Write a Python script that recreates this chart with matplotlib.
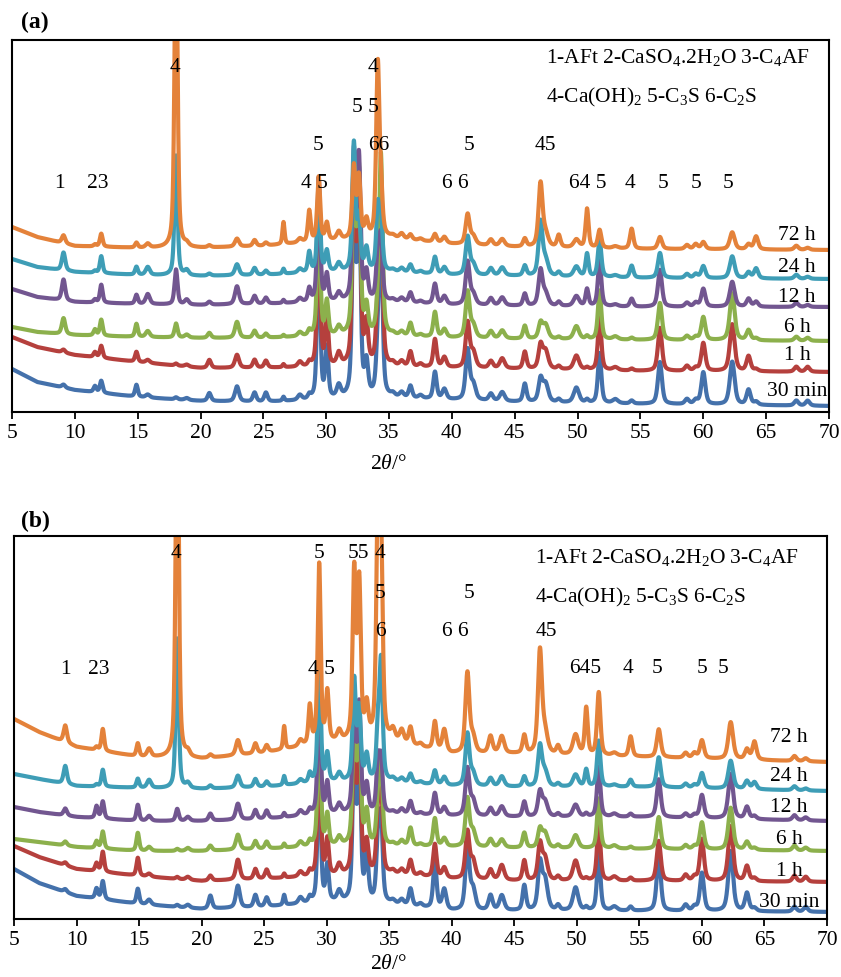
import numpy as np
import matplotlib
matplotlib.use("Agg")
import matplotlib.pyplot as plt

plt.rcParams['font.family'] = ['Liberation Serif', 'DejaVu Serif']
plt.rcParams['mathtext.fontset'] = 'custom'
plt.rcParams['mathtext.rm'] = 'Liberation Serif'
plt.rcParams['mathtext.it'] = 'Liberation Serif:italic'

# ---------------- data ----------------
series_names = ["30 min", "1 h", "6 h", "12 h", "24 h", "72 h"]
colors = ["#4471AB", "#B5403D", "#8CB04C", "#725690", "#3E9DB6", "#E4823A"]

# peak positions (2theta, deg) and widths (FWHM, deg)
peak_pos = [9.1, 11.6, 12.1, 14.9, 15.8, 18.05, 18.9, 20.7, 22.9, 24.3,
            25.2, 26.6, 27.9, 28.65, 29.4, 30.05, 31.0, 32.2, 32.6, 33.2,
            34.1, 34.35, 35.3, 36.0, 36.7, 37.5, 38.65, 39.4, 41.25, 41.7,
            43.1, 44.0, 45.8, 47.05, 47.45, 48.5, 49.9, 50.75, 51.75, 53.0,
            54.3, 56.55, 58.7, 59.4, 60.0, 62.3, 63.6, 64.2, 67.4, 68.3]
peak_fwhm = [0.32, 0.26, 0.26, 0.26, 0.38, 0.28, 0.38, 0.32, 0.38, 0.32,
             0.32, 0.2, 0.38, 0.26, 0.28, 0.28, 0.38, 0.3, 0.3, 0.32,
             0.3, 0.3, 0.38, 0.38, 0.32, 0.38, 0.32, 0.38, 0.38, 0.45,
             0.38, 0.45, 0.32, 0.38, 0.5, 0.32, 0.5, 0.28, 0.32, 0.5,
             0.32, 0.38, 0.38, 0.38, 0.38, 0.45, 0.38, 0.38, 0.38, 0.38]

# baseline control points
base_tt = [5, 7, 10, 15, 20, 25, 30, 35, 40, 45, 55, 70]

# ---- panel (a) ----
base_a_30min = [43, 30, 22, 15, 11, 10, 12, 14, 12, 10, 8, 6]
base_a_1h = [75, 65, 57, 50, 44, 44, 45, 45, 44, 43, 41, 40]
base_a_6h = [85, 80, 77, 75, 74, 74, 76, 76, 74, 73, 72, 71]
base_a_12h = [123, 115, 110, 108, 107, 108, 110, 110, 107, 106, 105, 105]
base_a_24h = [153, 145, 140, 137, 136, 137, 140, 140, 137, 136, 134, 133]
base_a_72h = [185, 175, 166, 164, 164, 166, 171, 174, 168, 165, 163, 162]

int_a_30min = [3, 6, 12, 12, 3, 2, 2, 8, 15, 9, 9, 4, 5, 4, 167, 50, 12, 210, 200, 32,
               45, 170, 3, 5, 12, 3, 27, 10, 50, 15, 7, 9, 18, 22, 18, 3, 15, 3, 50, 4,
               3, 42, 5, 4, 32, 43, 15, 3, 5, 5]
int_a_1h = [3, 5, 12, 10, 3, 2, 2, 8, 13, 8, 7, 3, 5, 4, 155, 48, 12, 190, 185, 40,
            50, 175, 3, 5, 15, 3, 28, 10, 45, 15, 7, 10, 17, 23, 18, 3, 14, 2, 53, 3,
            2, 43, 5, 3, 28, 47, 15, 2, 5, 5]
int_a_6h = [16, 6, 16, 13, 6, 14, 3, 5, 16, 7, 4, 2, 4, 5, 138, 33, 8, 168, 160, 27,
            20, 178, 2, 4, 13, 2, 25, 8, 46, 12, 7, 8, 13, 15, 14, 2, 13, 3, 49, 3,
            2, 37, 4, 3, 23, 47, 10, 2, 4, 3]
int_a_12h = [21, 3, 18, 9, 10, 35, 5, 3, 18, 8, 6, 3, 4, 13, 124, 26, 8, 145, 140, 27,
             45, 60, 2, 4, 10, 2, 20, 8, 43, 10, 7, 8, 12, 35, 12, 4, 10, 17, 46, 2,
             8, 37, 4, 4, 18, 25, 8, 5, 4, 2]
int_a_24h = [18, 2, 17, 8, 8, 120, 5, 2, 11, 7, 4, 5, 4, 20, 85, 20, 8, 127, 50, 22,
             60, 50, 2, 4, 8, 2, 17, 7, 38, 10, 7, 8, 10, 53, 15, 4, 10, 23, 38, 2,
             12, 25, 4, 4, 12, 22, 6, 10, 4, 2]
int_a_72h = [8, 2, 13, 5, 4, 330, 3, 2, 8, 6, 3, 22, 4, 31, 64, 17, 8, 71, 60, 17,
             170, 40, 2, 5, 5, 2, 8, 6, 30, 8, 6, 7, 8, 63, 12, 12, 8, 39, 18, 2,
             20, 12, 4, 5, 7, 17, 5, 13, 4, 2]

# ---- panel (b) ----
base_b_30min = [50, 36, 23, 15, 10, 12, 17, 15, 8, 8, 8, 7]
base_b_1h = [73, 62, 50, 43, 38, 40, 43, 45, 40, 38, 38, 37]
base_b_6h = [80, 77, 72, 68, 68, 70, 73, 73, 72, 71, 70, 68]
base_b_12h = [112, 107, 102, 98, 98, 100, 105, 105, 103, 102, 102, 98]
base_b_24h = [145, 140, 133, 131, 130, 132, 137, 137, 133, 132, 132, 128]
base_b_72h = [200, 187, 172, 162, 160, 166, 176, 178, 165, 165, 162, 157]

int_b_30min = [3, 10, 18, 15, 5, 2, 3, 13, 22, 12, 9, 10, 6, 5, 150, 35, 10, 150, 145, 45,
               60, 80, 3, 5, 17, 3, 47, 20, 65, 20, 15, 15, 25, 45, 30, 5, 23, 3, 60, 4,
               4, 57, 6, 4, 38, 60, 18, 3, 5, 5]
int_b_1h = [3, 8, 20, 18, 3, 2, 3, 5, 20, 10, 9, 4, 5, 5, 150, 35, 10, 140, 135, 30,
            55, 80, 3, 5, 15, 3, 33, 10, 47, 18, 10, 15, 20, 35, 22, 4, 20, 2, 59, 4,
            3, 40, 6, 4, 42, 55, 15, 3, 6, 5]
int_b_6h = [4, 7, 17, 18, 4, 2, 3, 5, 15, 8, 7, 4, 5, 5, 140, 30, 8, 130, 125, 32,
            42, 75, 2, 5, 18, 2, 28, 8, 48, 15, 8, 8, 15, 18, 15, 3, 13, 0, 50, 3,
            2, 32, 4, 3, 27, 42, 8, 2, 5, 3]
int_b_12h = [7, 12, 17, 16, 5, 12, 4, 7, 16, 9, 8, 4, 5, 5, 130, 30, 9, 110, 105, 27,
             50, 50, 2, 5, 13, 2, 22, 8, 47, 15, 8, 10, 15, 24, 15, 3, 12, 3, 50, 3,
             3, 38, 4, 3, 23, 45, 12, 3, 5, 3]
int_b_24h = [18, 2, 17, 9, 8, 150, 5, 3, 12, 8, 5, 9, 4, 9, 130, 27, 8, 100, 70, 25,
             50, 115, 3, 4, 9, 2, 14, 8, 52, 12, 8, 10, 10, 40, 15, 3, 12, 17, 46, 2,
             7, 30, 4, 3, 15, 28, 8, 7, 4, 2]
int_b_72h = [17, 3, 22, 13, 8, 400, 5, 3, 15, 10, 7, 23, 6, 38, 179, 49, 10, 167, 155, 32,
             230, 180, 10, 12, 17, 3, 28, 22, 80, 15, 17, 17, 18, 102, 20, 8, 20, 47, 63, 3,
             20, 28, 5, 5, 18, 37, 10, 18, 5, 3]

x_ticks = [5, 10, 15, 20, 25, 30, 35, 40, 45, 50, 55, 60, 65, 70]

bases_a = [base_a_30min, base_a_1h, base_a_6h, base_a_12h, base_a_24h, base_a_72h]
ints_a = [int_a_30min, int_a_1h, int_a_6h, int_a_12h, int_a_24h, int_a_72h]
bases_b = [base_b_30min, base_b_1h, base_b_6h, base_b_12h, base_b_24h, base_b_72h]
ints_b = [int_b_30min, int_b_1h, int_b_6h, int_b_12h, int_b_24h, int_b_72h]


def pattern(tt, base, ints):
    y = np.interp(tt, base_tt, base).astype(float)
    for p, w, h in zip(peak_pos, peak_fwhm, ints):
        d = (tt - p) / w
        lor = 1.0 / (1.0 + 4.0 * d ** 2)
        gau = np.exp(-4.0 * np.log(2) * d ** 2)
        y += h * (0.55 * lor + 0.45 * gau)
    return y


tt = np.linspace(5, 70, 6501)

FS = 15.5
fig = plt.figure(figsize=(8.41, 9.78), dpi=100)
ax_a = fig.add_axes([12 / 841, 1 - 413 / 978, 817 / 841, 372 / 978])
ax_b = fig.add_axes([14 / 841, 1 - 920 / 978, 813 / 841, 383 / 978])

legend1 = "1-AFt 2-CaSO$_4$.2H$_2$O 3-C$_4$AF"
legend2 = "4-Ca(OH)$_2$ 5-C$_3$S 6-C$_2$S"

labels_a = [("4", 18.0, 345), ("4", 33.75, 345), ("5 5", 33.1, 306),
            ("5", 29.35, 268), ("66", 34.2, 268), ("1", 8.8, 230),
            ("23", 11.85, 230), ("4 5", 29.1, 230), ("5", 41.36, 268),
            ("45", 47.45, 268), ("6 6", 40.25, 230), ("64 5", 50.8, 230),
            ("4", 54.2, 230), ("5", 56.8, 230), ("5", 59.4, 230), ("5", 62.0, 230)]
labels_b = [("4", 17.95, 367), ("5", 29.4, 367), ("55", 32.5, 367),
            ("4", 34.3, 367), ("5", 34.3, 327), ("6", 34.3, 288),
            ("1", 9.14, 250), ("23", 11.8, 250), ("4 5", 29.6, 250),
            ("5", 41.4, 327), ("6 6", 40.3, 289), ("45", 47.57, 289),
            ("645", 50.7, 251), ("4", 54.1, 251), ("5", 56.4, 251),
            ("5", 60.0, 251), ("5", 61.7, 251)]

time_a = [21, 58, 85, 115, 146, 178]
time_b = [17, 48, 80, 112, 143, 182]

panels = [
    (ax_a, bases_a, ints_a, 372, labels_a, time_a, 67.45, (47.48, 355, 316)),
    (ax_b, bases_b, ints_b, 383, labels_b, time_b, 66.97, (46.63, 363, 323)),
]

for ax, bases, ints, ytop, labels, tpos, tx, leg in panels:
    for name, col, b, it in zip(series_names, colors, bases, ints):
        ax.plot(tt, pattern(tt, b, it), color=col, lw=3.0, solid_joinstyle='round')
    ax.set_xlim(5, 70)
    ax.set_ylim(0, ytop)
    ax.set_yticks([])
    ax.set_xticks(x_ticks)
    ax.tick_params(axis='x', direction='out', length=5, width=1.3,
                   labelsize=FS, pad=3)
    for s in ax.spines.values():
        s.set_linewidth(1.5)
        s.set_color('black')
    for txt, x, y in labels:
        ax.text(x, y, txt, ha='center', va='center', fontsize=FS, zorder=10)
    for name, y in zip(series_names, tpos):
        ax.text(tx, y, name, ha='center', va='center', fontsize=FS, zorder=10)
    lx, ly1, ly2 = leg
    ax.text(lx, ly1, legend1, ha='left', va='center', fontsize=FS, zorder=10)
    ax.text(lx, ly2, legend2, ha='left', va='center', fontsize=FS, zorder=10)

fig.text(388 / 841, 1 - 465 / 978, r"2$\mathit{\theta}$/°", ha='center', va='center', fontsize=FS)
fig.text(388 / 841, 1 - 965 / 978, r"2$\mathit{\theta}$/°", ha='center', va='center', fontsize=FS)
fig.text(21 / 841, 1 - 22 / 978, "(a)", ha='left', va='center', fontsize=17, fontweight='bold')
fig.text(21 / 841, 1 - 521 / 978, "(b)", ha='left', va='center', fontsize=17, fontweight='bold')

fig.savefig("out.png", dpi=100)
